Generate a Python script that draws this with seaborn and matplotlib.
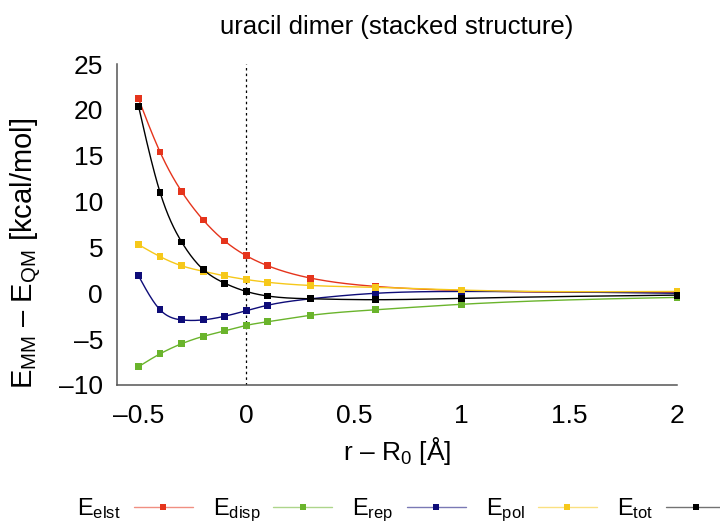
import numpy as np
import pandas as pd
import seaborn as sns
import matplotlib
matplotlib.use("Agg")
import matplotlib.pyplot as plt
from matplotlib.lines import Line2D

r = [-0.5, -0.4, -0.3, -0.2, -0.1, 0.0, 0.1, 0.3, 0.6, 1.0, 2.0]
e_elst = [21.2, 15.4, 11.1, 8.0, 5.7, 4.1, 3.0, 1.65, 0.75, 0.3, 0.1]
e_disp = [-8.0, -6.6, -5.5, -4.7, -4.1, -3.5, -3.1, -2.4, -1.8, -1.2, -0.45]
e_rep = [1.9, -1.8, -2.9, -2.9, -2.5, -1.9, -1.3, -0.6, 0.0, 0.2, 0.0]
e_pol = [5.3, 4.0, 3.0, 2.4, 1.9, 1.5, 1.2, 0.85, 0.65, 0.35, 0.2]
e_tot = [20.4, 11.0, 5.6, 2.6, 1.1, 0.2, -0.3, -0.6, -0.7, -0.55, -0.2]

labels = [r"E$_{\rm elst}$", r"E$_{\rm disp}$", r"E$_{\rm rep}$", r"E$_{\rm pol}$", r"E$_{\rm tot}$"]
series = [e_elst, e_disp, e_rep, e_pol, e_tot]
colors = ["#e5341c", "#6ab42c", "#0e0c78", "#f6c81a", "#000000"]

xticks = [-0.5, 0, 0.5, 1, 1.5, 2]
xtick_labels = ["–0.5", "0", "0.5", "1", "1.5", "2"]
yticks = [-10, -5, 0, 5, 10, 15, 20, 25]
ytick_labels = ["–10", "–5", "0", "5", "10", "15", "20", "25"]


def natural_spline(x, y, xs):
    x = np.asarray(x, float); y = np.asarray(y, float)
    n = len(x)
    h = np.diff(x)
    A = np.zeros((n, n)); b = np.zeros(n)
    A[0, 0] = 1; A[-1, -1] = 1
    for i in range(1, n - 1):
        A[i, i - 1] = h[i - 1]
        A[i, i] = 2 * (h[i - 1] + h[i])
        A[i, i + 1] = h[i]
        b[i] = 3 * ((y[i + 1] - y[i]) / h[i] - (y[i] - y[i - 1]) / h[i - 1])
    c = np.linalg.solve(A, b)
    out = np.empty_like(xs)
    for j, xv in enumerate(xs):
        i = min(max(np.searchsorted(x, xv) - 1, 0), n - 2)
        dx = xv - x[i]
        bi = (y[i + 1] - y[i]) / h[i] - h[i] * (2 * c[i] + c[i + 1]) / 3
        di = (c[i + 1] - c[i]) / (3 * h[i])
        out[j] = y[i] + bi * dx + c[i] * dx ** 2 + di * dx ** 3
    return out


sns.set_theme(style="white")
plt.rcParams['font.family'] = ['Liberation Sans', 'DejaVu Sans']
plt.rcParams['mathtext.fontset'] = 'custom'
plt.rcParams['mathtext.rm'] = 'Liberation Sans'
plt.rcParams['mathtext.it'] = 'Liberation Sans'
plt.rcParams['text.color'] = 'black'
plt.rcParams['axes.labelcolor'] = 'black'

fig = plt.figure(figsize=(7.2, 5.26), dpi=100)
ax = fig.add_axes([117 / 720, 1 - 385 / 526, 560 / 720, 321 / 526])

xs = np.linspace(r[0], r[-1], 600)
dense = []
pts = []
for lab, ys in zip(labels, series):
    dense.append(pd.DataFrame({"r": xs, "E": natural_spline(r, ys, xs), "s": lab}))
    pts.append(pd.DataFrame({"r": r, "E": ys, "s": lab}))
dense = pd.concat(dense); pts = pd.concat(pts)
pal = dict(zip(labels, colors))

ax.axvline(0, color="black", lw=0.9, ls=(0, (2, 2.5)), zorder=1)
sns.lineplot(data=dense, x="r", y="E", hue="s", palette=pal, lw=1.0, ax=ax, legend=False, zorder=2)
sns.scatterplot(data=pts, x="r", y="E", hue="s", palette=pal, marker="s", s=24, linewidth=0,
                ax=ax, legend=False, zorder=3, clip_on=False)

ax.set_xlim(-0.6, 2.0)
ax.set_ylim(-10, 25)
ax.set_xticks(xticks)
ax.set_xticklabels(xtick_labels)
ax.set_yticks(yticks)
ax.set_yticklabels(ytick_labels)
ax.tick_params(labelsize=19, direction="in", length=5, width=1, color="#555555", labelcolor="black")
ax.tick_params(axis="y", pad=10)
ax.tick_params(axis="x", pad=14)
for side in ["top", "right"]:
    ax.spines[side].set_visible(False)
for side in ["left", "bottom"]:
    ax.spines[side].set_color("#555555")
    ax.spines[side].set_linewidth(1.1)

ax.set_xlabel(r"r – R$_0$ [Å]", fontsize=19)
ax.set_ylabel(r"E$_{\rm MM}$ – E$_{\rm QM}$ [kcal/mol]", fontsize=21)
ax.xaxis.set_label_coords(0.5, -0.155)
ax.yaxis.set_label_coords(-0.13, 0.41)
fig.text(397 / 720, 1 - 27 / 526, "uracil dimer (stacked structure)", ha="center", va="center", fontsize=18.5)

handles = [(Line2D([0], [0], color=c, lw=1.0, alpha=0.55),
            Line2D([0], [0], color=c, lw=0, marker="s", markersize=4, markeredgewidth=0))
           for c in colors]
leg = fig.legend(handles, labels, loc="center left", bbox_to_anchor=(77 / 720, 1 - 510 / 526), ncol=5,
                 frameon=False, fontsize=17, markerfirst=False, handlelength=2.5,
                 columnspacing=0.85, handletextpad=0.55, borderpad=0, borderaxespad=0)
fig.savefig("out.png", dpi=100)
